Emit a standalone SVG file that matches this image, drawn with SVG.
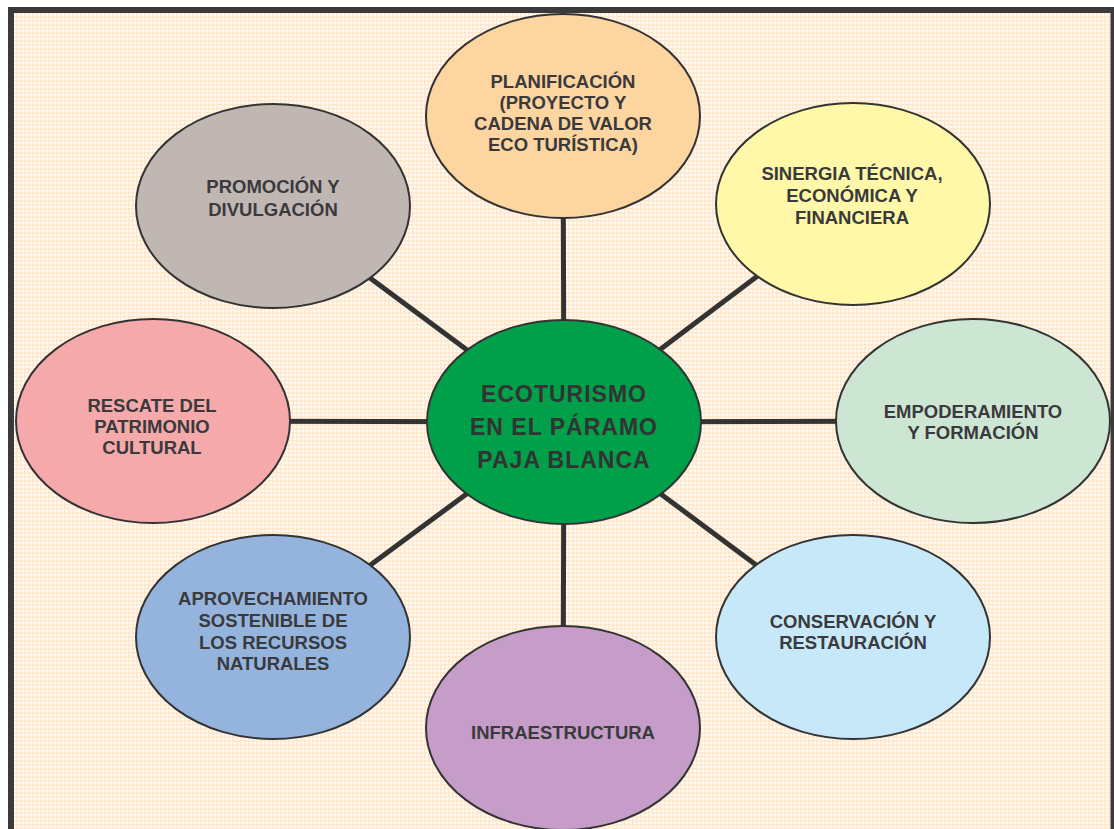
<svg xmlns="http://www.w3.org/2000/svg" width="1114" height="829" viewBox="0 0 1114 829">
<defs>
<pattern id="bg" width="4" height="4" patternUnits="userSpaceOnUse">
<rect width="4" height="4" fill="#fffaf3"/>
<rect y="0" width="4" height="1.6" fill="#fde4c6" opacity="0.75"/>
<rect x="0" width="1.6" height="4" fill="#fde4c6" opacity="0.75"/>
</pattern>
<style>
.n{stroke:#333;stroke-width:2}
.t{font-family:"Liberation Sans",Arial,sans-serif;font-weight:bold;font-size:18.5px;fill:#3a3a3c;text-anchor:middle}
.c{font-family:"Liberation Sans",Arial,sans-serif;font-weight:bold;font-size:23px;fill:#333;text-anchor:middle;letter-spacing:1px}
.l{stroke:#333;stroke-width:5;fill:none}
</style>
</defs>
<rect x="0" y="0" width="1114" height="829" fill="#ffffff"/>
<rect x="11" y="10" width="1102.5" height="840" fill="url(#bg)" stroke="#3a3a3c" stroke-width="6"/>
<g id="connectors">
<line class="l" x1="564" y1="422" x2="563" y2="116"/>
<line class="l" x1="564" y1="422" x2="853" y2="204"/>
<line class="l" x1="564" y1="422" x2="973" y2="421"/>
<line class="l" x1="564" y1="422" x2="853" y2="637"/>
<line class="l" x1="564" y1="422" x2="563" y2="728"/>
<line class="l" x1="564" y1="422" x2="273" y2="637"/>
<line class="l" x1="564" y1="422" x2="153" y2="421"/>
<line class="l" x1="564" y1="422" x2="273" y2="206"/>
</g>
<g id="planificacion">
<ellipse class="n" cx="563" cy="116" rx="137" ry="102" fill="#fcd5a0"/>
<text class="t" x="563" y="88">PLANIFICACIÓN</text>
<text class="t" x="563" y="109">(PROYECTO Y</text>
<text class="t" x="563" y="130">CADENA DE VALOR</text>
<text class="t" x="563" y="151">ECO TURÍSTICA)</text>
</g>
<g id="sinergia">
<ellipse class="n" cx="853" cy="204" rx="137" ry="101" fill="#fef8a8"/>
<text class="t" x="852" y="180">SINERGIA TÉCNICA,</text>
<text class="t" x="852" y="202">ECONÓMICA Y</text>
<text class="t" x="852" y="224">FINANCIERA</text>
</g>
<g id="empoderamiento">
<ellipse class="n" cx="973" cy="421" rx="137" ry="102" fill="#cde6d3"/>
<text class="t" x="973" y="418">EMPODERAMIENTO</text>
<text class="t" x="973" y="439">Y FORMACIÓN</text>
</g>
<g id="conservacion">
<ellipse class="n" cx="853" cy="637" rx="137" ry="102" fill="#c7e8f8"/>
<text class="t" x="853" y="628">CONSERVACIÓN Y</text>
<text class="t" x="853" y="649">RESTAURACIÓN</text>
</g>
<g id="infraestructura">
<ellipse class="n" cx="563" cy="728" rx="137" ry="102" fill="#c59dc8"/>
<text class="t" x="563" y="739">INFRAESTRUCTURA</text>
</g>
<g id="aprovechamiento">
<ellipse class="n" cx="273" cy="637" rx="137" ry="102" fill="#94b4de"/>
<text class="t" x="273" y="605">APROVECHAMIENTO</text>
<text class="t" x="273" y="627">SOSTENIBLE DE</text>
<text class="t" x="273" y="649">LOS RECURSOS</text>
<text class="t" x="273" y="670">NATURALES</text>
</g>
<g id="rescate">
<ellipse class="n" cx="153" cy="421" rx="137" ry="102" fill="#f5a9ab"/>
<text class="t" x="152" y="412">RESCATE DEL</text>
<text class="t" x="152" y="433">PATRIMONIO</text>
<text class="t" x="152" y="454">CULTURAL</text>
</g>
<g id="promocion">
<ellipse class="n" cx="273" cy="206" rx="137" ry="102" fill="#c0b7b3"/>
<text class="t" x="273" y="193">PROMOCIÓN Y</text>
<text class="t" x="273" y="216">DIVULGACIÓN</text>
</g>
<g id="centro">
<ellipse class="n" cx="564" cy="422" rx="137" ry="102" fill="#00a04a"/>
<text class="c" x="564" y="402">ECOTURISMO</text>
<text class="c" x="564" y="435">EN EL PÁRAMO</text>
<text class="c" x="564" y="468">PAJA BLANCA</text>
</g>
</svg>
